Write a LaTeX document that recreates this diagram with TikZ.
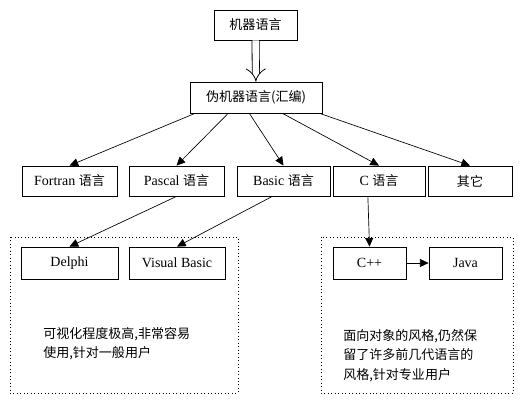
\documentclass[tikz,border=0pt]{standalone}
\usepackage{fontspec}
\setmainfont{Liberation Serif}
\newfontfamily\cjk[Scale=0.93]{Noto Sans CJK SC}
\usetikzlibrary{arrows.meta,calc}
\tikzset{
  lang/.style={draw,line width=.6pt,minimum height=22.5pt,inner sep=0pt,font=\fontsize{10.5}{14}\selectfont},
  arr/.style={line width=.5pt,-{Triangle[length=6.5pt,width=6pt]}},
  group/.style={line width=.6pt,dotted},
  remark/.style={anchor=north west,inner sep=0pt,align=left,font=\cjk\fontsize{10.5}{14.6}\selectfont}
}
\begin{document}
\begin{tikzpicture}[x=.75pt,y=-.75pt]
\useasboundingbox (0,0) rectangle (524,400);
\node[lang,minimum width=62.25pt] (mach) at (255.5,25) {\cjk 机器语言};
\node[lang,minimum width=99pt,minimum height=23.25pt] (asm) at (256,97.5) {\cjk 伪机器语言(汇编)};
\draw[line width=.6pt,double,double distance=4.8pt,-{Implies}] (mach) -- (asm);
\foreach \n/\x/\w/\l in {fortran/69.5/71.25/{Fortran \cjk 语言}, pascal/176.5/71.25/{Pascal \cjk 语言},
    basic/283.5/69.75/{Basic \cjk 语言}, c/379/69/{C \cjk 语言}, other/470/63/{\cjk 其它}}
  \node[lang,minimum width=\w pt] (\n) at (\x,181) {\l} ;
\foreach \n/\f in {fortran/.04, pascal/.29, basic/.45, c/.70, other/.98}
  \draw[arr] ($(asm.south west)!\f!(asm.south east)$) -- (\n.north) ;
% dotted groups
\draw[group] (10,237) rectangle (238,393);
\draw[group] (321,237) rectangle (513,393);
\foreach \n/\x/\w/\l in {delphi/69.5/72.75/Delphi, vb/177/72/Visual Basic, cpp/369.5/54.75/C++, java/465.5/54.75/Java}
  \node[lang,minimum width=\w pt,minimum height=24pt] (\n) at (\x,263) {\l} ;
\draw[arr] (pascal.south) -- (delphi.north);
\draw[arr] ($(basic.south west)!.38!(basic.south east)$) -- (vb.north);
\draw[arr] ($(c.south west)!.38!(c.south east)$) -- (cpp.north);
\draw[arr] (cpp) -- (java);
\node[remark] (vis) at (43,327) {可视化程度极高,非常容易\\使用,针对一般用户};
\node[remark] (oop) at (343,329) {面向对象的风格,仍然保\\留了许多前几代语言的\\风格,针对专业用户};
\end{tikzpicture}
\end{document}
